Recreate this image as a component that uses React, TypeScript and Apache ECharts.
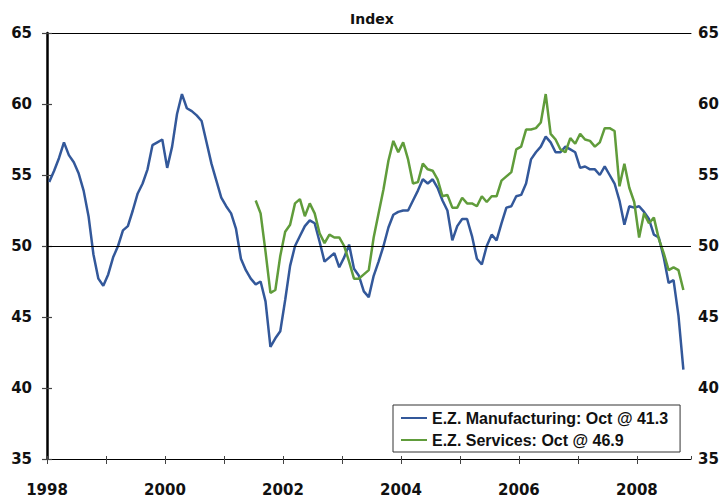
import React, { useEffect, useRef } from 'react';
import * as echarts from 'echarts';

// Monthly PMI readings, Jan 1998 .. Oct 2008
const START_YEAR = 1998;
const manufacturingName = 'E.Z. Manufacturing: Oct @ 41.3';
const servicesName = 'E.Z. Services: Oct @ 46.9';

const manufacturing = [
  54.5, 55.3, 56.2, 57.3, 56.4, 55.9, 55.1, 53.9, 52.1, 49.4, 47.7, 47.2,
  48.0, 49.2, 50.0, 51.1, 51.4, 52.5, 53.7, 54.4, 55.4, 57.1, 57.3, 57.5,
  55.5, 57.0, 59.3, 60.7, 59.7, 59.5, 59.2, 58.8, 57.3, 55.8, 54.6, 53.4,
  52.8, 52.3, 51.2, 49.1, 48.3, 47.7, 47.3, 47.5, 46.1, 42.9, 43.5, 44.0,
  46.2, 48.6, 50.0, 50.7, 51.4, 51.8, 51.6, 50.3, 48.9, 49.2, 49.5, 48.5,
  49.2, 50.1, 48.4, 47.9, 46.8, 46.4, 47.9, 48.9, 50.0, 51.3, 52.2, 52.4,
  52.5, 52.5, 53.2, 53.9, 54.7, 54.4, 54.7, 54.1, 53.2, 52.5, 50.4, 51.4,
  51.9, 51.9, 50.7, 49.1, 48.7, 50.0, 50.8, 50.4, 51.6, 52.7, 52.8, 53.5,
  53.6, 54.4, 56.1, 56.6, 57.0, 57.7, 57.3, 56.6, 56.6, 57.0, 56.8, 56.6,
  55.5, 55.6, 55.4, 55.4, 55.0, 55.6, 55.0, 54.4, 53.2, 51.5, 52.8, 52.7,
  52.8, 52.4, 51.9, 50.8, 50.6, 49.2, 47.4, 47.6, 45.1, 41.3,
];

// Services series begins Jul 2001 (month index 42)
const servicesStartMonth = 42;
const services = [
  53.2, 52.3, 49.6, 46.7, 46.9, 49.3,
  51.0, 51.5, 53.0, 53.3, 52.1, 53.0, 52.3, 50.9, 50.2, 50.8, 50.6, 50.6,
  50.0, 48.9, 47.7, 47.7, 48.0, 48.3, 50.6, 52.3, 54.0, 56.0, 57.4, 56.6,
  57.3, 56.1, 54.4, 54.5, 55.8, 55.4, 55.3, 54.7, 53.5, 53.6, 52.7, 52.7,
  53.4, 53.0, 53.0, 52.8, 53.5, 53.1, 53.5, 53.5, 54.6, 54.9, 55.2, 56.8,
  57.0, 58.2, 58.2, 58.3, 58.7, 60.7, 57.9, 57.5, 56.8, 56.6, 57.6, 57.2,
  57.9, 57.5, 57.4, 57.0, 57.3, 58.3, 58.3, 58.1, 54.2, 55.8, 54.1, 53.1,
  50.6, 52.3, 51.6, 52.0, 50.5, 49.5, 48.3, 48.5, 48.3, 46.9,
];

const yMin = 35;
const yMax = 65;
const yStep = 5;
const xMaxMonth = 131; // Dec 2008
const referenceLevel = 50;

const BLUE = '#33589a';
const GREEN = '#609c3b';
const TICK_FONT = 'DejaVu Sans';

export default function App() {
  const ref = useRef<HTMLDivElement>(null);

  useEffect(() => {
    const chart = echarts.init(ref.current!, null, { renderer: 'svg' });
    const toPoints = (arr: number[], start: number) =>
      arr.map((v, k) => [start + k + 0.45, v]);

    const yAxisCommon = {
      type: 'value',
      min: yMin,
      max: yMax,
      interval: yStep,
      splitLine: { show: false },
      axisTick: { show: true, inside: false, length: 5, lineStyle: { color: '#444', width: 1.2 } },
    };

    chart.setOption({
      animation: false,
      backgroundColor: '#ffffff',
      title: {
        text: 'Index',
        left: 345,
        top: 7,
        textStyle: { fontFamily: TICK_FONT, fontWeight: 'bold', fontSize: 14, color: '#111' },
      },
      grid: { left: 47, right: 34, top: 33, bottom: 39 },
      legend: {
        orient: 'vertical',
        left: 393,
        top: 405,
        padding: [3, 12, 2, 8],
        itemGap: 2,
        itemWidth: 26,
        itemHeight: 2,
        icon: 'rect',
        borderColor: '#333',
        borderWidth: 1,
        backgroundColor: '#fff',
        textStyle: {
          fontFamily: 'Liberation Sans',
          fontWeight: 'bold',
          fontSize: 16,
          color: '#111',
          lineHeight: 20,
        },
        data: [manufacturingName, servicesName],
      },
      xAxis: [
        {
          type: 'value',
          min: 0,
          max: xMaxMonth,
          interval: 12,
          position: 'bottom',
          splitLine: { show: false },
          axisLine: { show: true, lineStyle: { color: '#000', width: 1 } },
          axisTick: { show: true, inside: false, length: 5, lineStyle: { color: '#444', width: 1 } },
          axisLabel: {
            margin: 23,
            fontFamily: TICK_FONT,
            fontWeight: 'bold',
            fontSize: 15,
            color: '#111',
            showMaxLabel: false,
            formatter: (v: number) => (v % 24 === 0 ? String(START_YEAR + v / 12) : ''),
          },
        },
        {
          type: 'value',
          min: 0,
          max: xMaxMonth,
          interval: 12,
          position: 'bottom',
          splitLine: { show: false },
          axisLine: { show: false },
          axisTick: { show: true, inside: true, length: 3, lineStyle: { color: '#444', width: 1 } },
          axisLabel: { show: false },
        },
        {
          type: 'value',
          min: 0,
          max: xMaxMonth,
          position: 'top',
          splitLine: { show: false },
          axisLine: { show: true, lineStyle: { color: '#000', width: 1 } },
          axisTick: { show: false },
          axisLabel: { show: false },
        },
      ],
      yAxis: [
        {
          ...yAxisCommon,
          position: 'left',
          axisLine: { show: true, lineStyle: { color: '#000', width: 2.5 } },
          axisLabel: { margin: 15, fontFamily: TICK_FONT, fontWeight: 'bold', fontSize: 15, color: '#111' },
        },
        {
          ...yAxisCommon,
          position: 'right',
          axisLine: { show: true, lineStyle: { color: '#000', width: 1 } },
          axisLabel: { margin: 7, fontFamily: TICK_FONT, fontWeight: 'bold', fontSize: 15, color: '#111' },
        },
      ],
      series: [
        {
          name: manufacturingName,
          type: 'line',
          xAxisIndex: 0,
          yAxisIndex: 0,
          data: toPoints(manufacturing, 0),
          showSymbol: false,
          symbol: 'none',
          lineStyle: { color: BLUE, width: 2.5 },
          itemStyle: { color: BLUE },
          markLine: {
            silent: true,
            symbol: ['none', 'none'],
            label: { show: false },
            lineStyle: { color: '#000', width: 1, type: 'solid' },
            data: [{ yAxis: referenceLevel }],
          },
          z: 3,
        },
        {
          name: servicesName,
          type: 'line',
          xAxisIndex: 0,
          yAxisIndex: 0,
          data: toPoints(services, servicesStartMonth),
          showSymbol: false,
          symbol: 'none',
          lineStyle: { color: GREEN, width: 2.5 },
          itemStyle: { color: GREEN },
          z: 3,
        },
      ],
    });
    return () => chart.dispose();
  }, []);

  return (
    <div
      ref={ref}
      style={{ position: 'absolute', left: 0, top: 0, width: 725, height: 498, background: '#fff' }}
    />
  );
}
